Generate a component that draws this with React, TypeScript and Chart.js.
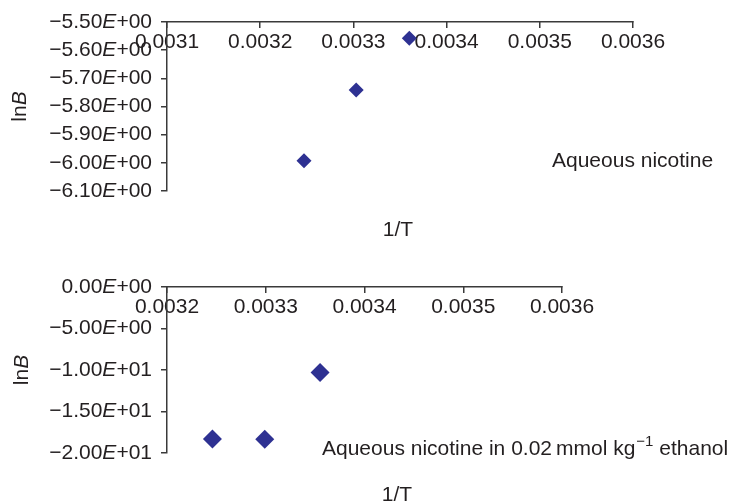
import React, { useEffect, useRef } from "react";
import { Chart, registerables } from "chart.js";

Chart.register(...registerables);

// ---- data ----
const topX = [0.003247, 0.003303, 0.00336];
const topY = [-5.993, -5.741, -5.558];
const botX = [0.003246, 0.003299, 0.003355];
const botY = [-18.3, -18.35, -10.3];

const topXTicks = [0.0031, 0.0032, 0.0033, 0.0034, 0.0035, 0.0036];
const topYTicks = [-6.1, -6.0, -5.9, -5.8, -5.7, -5.6, -5.5];
const botXTicks = [0.0032, 0.0033, 0.0034, 0.0035, 0.0036];
const botYTicks = [-20, -15, -10, -5, 0];

const topLabel = "Aqueous nicotine";
const botLabelMain = "Aqueous nicotine in 0.02";
const botLabelUnit = "mmol kg";
const botLabelSup = "\u22121";
const botLabelEnd = " ethanol";
const xTitle = "1/T";

// ---- styles ----
const FONT = "'Liberation Sans', Arial, Helvetica, sans-serif";
const TEXT = "#231f20";
const AXIS = "#3a3a3a";
const MARK = "#2e3192";

function sciParts(v: number): [string, string] {
  if (Math.abs(v) < 1e-12) return ["0.00", "+00"];
  const a = Math.abs(v);
  let e = Math.floor(Math.log10(a) + 1e-9);
  let m = a / Math.pow(10, e);
  if (m >= 9.995) {
    m /= 10;
    e += 1;
  }
  const es = (e < 0 ? "\u2212" : "+") + String(Math.abs(e)).padStart(2, "0");
  return [(v < 0 ? "\u2212" : "") + m.toFixed(2), es];
}

type TextCfg = {
  lnX: number;
  tX: number;
  tY: number;
  yTicks: number[];
  annot: (ctx: CanvasRenderingContext2D) => void;
};

function makeTextPlugin(cfg: TextCfg) {
  return {
    id: "extraTexts",
    afterDraw(chart: any) {
      const ctx: CanvasRenderingContext2D = chart.ctx;
      const ca = chart.chartArea;
      const yScale = chart.scales.y;
      ctx.save();
      ctx.fillStyle = TEXT;
      // y tick labels with italic E
      ctx.textBaseline = "middle";
      ctx.textAlign = "left";
      const right = ca.left - 15;
      cfg.yTicks.forEach((v) => {
        const y = yScale.getPixelForValue(v);
        const [m, ex] = sciParts(v);
        ctx.font = `21px ${FONT}`;
        const wm = ctx.measureText(m).width;
        const wx = ctx.measureText(ex).width;
        ctx.font = `italic 21px ${FONT}`;
        const we = ctx.measureText("E").width;
        let x = right - (wm + we + wx);
        ctx.font = `21px ${FONT}`;
        ctx.fillText(m, x, y);
        x += wm;
        ctx.font = `italic 21px ${FONT}`;
        ctx.fillText("E", x, y);
        x += we;
        ctx.font = `21px ${FONT}`;
        ctx.fillText(ex, x, y);
      });
      // y title: ln B (B italic), rotated
      ctx.save();
      ctx.translate(cfg.lnX, (ca.top + ca.bottom) / 2);
      ctx.rotate(-Math.PI / 2);
      ctx.textBaseline = "middle";
      ctx.textAlign = "left";
      ctx.font = `21px ${FONT}`;
      const w1 = ctx.measureText("ln").width;
      ctx.font = `italic 21px ${FONT}`;
      const w2 = ctx.measureText("B").width;
      const start = -(w1 + w2) / 2;
      ctx.font = `21px ${FONT}`;
      ctx.fillText("ln", start, 0);
      ctx.font = `italic 21px ${FONT}`;
      ctx.fillText("B", start + w1, 0);
      ctx.restore();
      // x title
      ctx.font = `21px ${FONT}`;
      ctx.textAlign = "center";
      ctx.textBaseline = "middle";
      ctx.fillText(xTitle, cfg.tX, cfg.tY);
      // annotation
      ctx.textAlign = "left";
      ctx.textBaseline = "alphabetic";
      cfg.annot(ctx);
      ctx.restore();
    },
  };
}

function buildConfig(
  xs: number[],
  ys: number[],
  xTicks: number[],
  yTicks: number[],
  radius: number,
  area: { top: number; right: number; bottom: number },
  plugin: any
): any {
  return {
    type: "scatter",
    data: {
      datasets: [
        {
          data: xs.map((x, i) => ({ x, y: ys[i] })),
          pointStyle: "rectRot",
          pointRadius: radius,
          pointHoverRadius: radius,
          backgroundColor: MARK,
          borderColor: MARK,
          borderWidth: 0,
        },
      ],
    },
    options: {
      responsive: false,
      animation: false,
      events: [],
      layout: { padding: { left: 0, top: 0, right: area.right, bottom: area.bottom } },
      plugins: { legend: { display: false }, tooltip: { enabled: false } },
      scales: {
        x: {
          type: "linear",
          position: "top",
          min: xTicks[0],
          max: xTicks[xTicks.length - 1],
          afterBuildTicks: (s: any) => {
            s.ticks = xTicks.map((v) => ({ value: v }));
          },
          afterFit: (s: any) => {
            s.height = area.top;
          },
          grid: {
            drawOnChartArea: false,
            drawTicks: true,
            tickLength: -6,
            color: AXIS,
            lineWidth: 1.5,
          },
          border: { display: true, color: AXIS, width: 1.5 },
          ticks: {
            mirror: true,
            padding: 8,
            autoSkip: false,
            maxRotation: 0,
            color: TEXT,
            font: { family: FONT, size: 21 },
            callback: (v: any) => Number(v).toFixed(4),
          },
        },
        y: {
          type: "linear",
          position: "left",
          min: yTicks[0],
          max: yTicks[yTicks.length - 1],
          afterBuildTicks: (s: any) => {
            s.ticks = yTicks.map((v) => ({ value: v }));
          },
          afterFit: (s: any) => {
            s.width = 167;
          },
          grid: {
            drawOnChartArea: false,
            drawTicks: true,
            tickLength: 6,
            color: AXIS,
            lineWidth: 1.5,
          },
          border: { display: true, color: AXIS, width: 1.5 },
          ticks: { display: false },
        },
      },
    },
    plugins: [plugin],
  };
}

export default function App() {
  const topRef = useRef<HTMLCanvasElement | null>(null);
  const botRef = useRef<HTMLCanvasElement | null>(null);

  useEffect(() => {
    const topPlugin = makeTextPlugin({
      lnX: 20.5,
      tX: 398,
      tY: 230,
      yTicks: topYTicks,
      annot: (ctx) => {
        ctx.font = `21px ${FONT}`;
        ctx.fillText(topLabel, 552, 167);
      },
    });
    const botPlugin = makeTextPlugin({
      lnX: 22.5,
      tX: 397,
      tY: 243,
      yTicks: botYTicks,
      annot: (ctx) => {
        let x = 322;
        const base = 203;
        ctx.font = `21px ${FONT}`;
        ctx.fillText(botLabelMain, x, base);
        x += ctx.measureText(botLabelMain).width + 4;
        ctx.fillText(botLabelUnit, x, base);
        x += ctx.measureText(botLabelUnit).width + 1;
        ctx.font = `15px ${FONT}`;
        ctx.fillText(botLabelSup, x, base - 9);
        x += ctx.measureText(botLabelSup).width;
        ctx.font = `21px ${FONT}`;
        ctx.fillText(botLabelEnd, x, base);
      },
    });

    const c1 = new Chart(
      topRef.current as HTMLCanvasElement,
      buildConfig(topX, topY, topXTicks, topYTicks, 7.5, { top: 22, right: 100, bottom: 61 }, topPlugin)
    );
    const c2 = new Chart(
      botRef.current as HTMLCanvasElement,
      buildConfig(botX, botY, botXTicks, botYTicks, 9.5, { top: 35, right: 171, bottom: 51 }, botPlugin)
    );
    return () => {
      c1.destroy();
      c2.destroy();
    };
  }, []);

  return (
    <div
      style={{
        position: "absolute",
        left: 0,
        top: 0,
        width: 733,
        height: 504,
        background: "#ffffff",
        overflow: "hidden",
      }}
    >
      <canvas ref={topRef} width={733} height={252} style={{ display: "block", width: 733, height: 252 }} />
      <canvas ref={botRef} width={733} height={252} style={{ display: "block", width: 733, height: 252 }} />
    </div>
  );
}
